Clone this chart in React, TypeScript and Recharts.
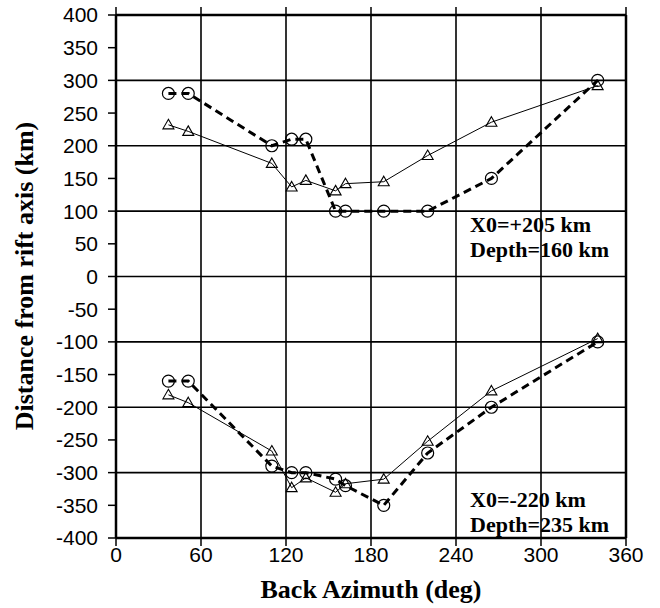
import { LineChart, Line, XAxis, YAxis, CartesianGrid, Label } from 'recharts'

// back azimuth of each event group (deg)
const azimuths = [37, 51, 110, 124, 134, 155, 162, 189, 220, 265, 340]
// X0=+205 km, depth 160 km
const upperObserved = [280, 280, 200, 210, 210, 100, 100, 100, 100, 150, 300]
const upperModel = [232, 222, 173, 137, 147, 131, 142, 145, 185, 236, 292]
// X0=-220 km, depth 235 km
const lowerObserved = [-160, -160, -290, -300, -300, -310, -320, -350, -270, -200, -100]
const lowerModel = [-181, -193, -267, -323, -308, -330, -317, -310, -252, -175, -95]

const xTicks = [0, 60, 120, 180, 240, 300, 360]
const yTicks = [-400, -350, -300, -250, -200, -150, -100, -50, 0, 50, 100, 150, 200, 250, 300, 350, 400]
const gridX = [60, 120, 180, 240, 300]
const gridY = [-300, -200, -100, 0, 100, 200, 300]

const data = azimuths.map((az, i) => ({
  az,
  upperObserved: upperObserved[i],
  upperModel: upperModel[i],
  lowerObserved: lowerObserved[i],
  lowerModel: lowerModel[i],
}))

const SANS = '"Liberation Sans", Arial, sans-serif'
const SERIF = '"Liberation Serif", "Times New Roman", serif'
const tickStyle = { fontFamily: SANS, fontSize: 21, fill: '#000' }
const frame = { stroke: '#000', strokeWidth: 2.5 }
const tickLn = { stroke: '#000', strokeWidth: 1.5 }

function CircleDot(props: any) {
  const { cx, cy } = props
  if (cx == null || cy == null) return <g />
  return <circle cx={cx} cy={cy} r={6} fill="none" stroke="#000" strokeWidth={1.2} />
}

function TriangleDot(props: any) {
  const { cx, cy } = props
  if (cx == null || cy == null) return <g />
  return (
    <path
      d={`M${cx},${cy - 5.5} L${cx + 5.5},${cy + 4} L${cx - 5.5},${cy + 4} Z`}
      fill="none"
      stroke="#000"
      strokeWidth={1.1}
    />
  )
}

const noTick = () => <g />

export default function App() {
  const annot = { fontFamily: SERIF, fontWeight: 700, fontSize: 22, fill: '#000' }
  return (
    <div style={{ position: 'relative', width: 660, height: 608, background: '#fff' }}>
      <style>{'body{margin:0}'}</style>
      <svg width={660} height={608} style={{ position: 'absolute', left: 0, top: 0 }}>
        <text x={470} y={232} {...annot}>X0=+205 km</text>
        <text x={470} y={257} {...annot}>Depth=160 km</text>
        <text x={470} y={507} {...annot}>X0=-220 km</text>
        <text x={470} y={532} {...annot}>Depth=235 km</text>
      </svg>
      <div style={{ position: 'absolute', left: 0, top: 0 }}>
        <LineChart width={660} height={608} data={data} margin={{ top: 0, right: 0, bottom: 0, left: 0 }}>
          <CartesianGrid
            stroke="#000"
            strokeWidth={1.6}
            horizontalValues={gridY}
            verticalValues={gridX}
          />
          <XAxis
            dataKey="az"
            type="number"
            domain={[0, 360]}
            ticks={xTicks}
            height={70}
            axisLine={frame}
            tickLine={tickLn}
            tickSize={8}
            tickMargin={1}
            tick={tickStyle}
            interval={0}
          >
            <Label
              content={() => (
                <text x={371} y={598} textAnchor="middle" fontFamily={SERIF} fontWeight={700} fontSize={26} fill="#000">
                  Back Azimuth (deg)
                </text>
              )}
            />
          </XAxis>
          <XAxis
            xAxisId="top"
            orientation="top"
            dataKey="az"
            type="number"
            domain={[0, 360]}
            ticks={xTicks}
            height={15}
            axisLine={frame}
            tickLine={tickLn}
            tickSize={8}
            tick={noTick}
            interval={0}
          />
          <YAxis
            type="number"
            domain={[-400, 400]}
            ticks={yTicks}
            width={116}
            axisLine={frame}
            tickLine={tickLn}
            tickSize={8}
            tickMargin={10}
            tick={tickStyle}
            interval={0}
          >
            <Label
              content={() => (
                <text
                  transform="translate(33,276) rotate(-90)"
                  textAnchor="middle"
                  fontFamily={SERIF}
                  fontWeight={700}
                  fontSize={26}
                  fill="#000"
                >
                  Distance from rift axis (km)
                </text>
              )}
            />
          </YAxis>
          <YAxis
            yAxisId="right"
            orientation="right"
            type="number"
            domain={[-400, 400]}
            ticks={yTicks}
            width={34}
            axisLine={frame}
            tickLine={tickLn}
            tickSize={8}
            tick={noTick}
            interval={0}
          />
          <Line type="linear" dataKey="upperModel" stroke="#000" strokeWidth={1} dot={TriangleDot} isAnimationActive={false} />
          <Line type="linear" dataKey="lowerModel" stroke="#000" strokeWidth={1} dot={TriangleDot} isAnimationActive={false} />
          <Line type="linear" dataKey="upperObserved" stroke="#000" strokeWidth={3} strokeDasharray="8 5" dot={CircleDot} isAnimationActive={false} />
          <Line type="linear" dataKey="lowerObserved" stroke="#000" strokeWidth={3} strokeDasharray="8 5" dot={CircleDot} isAnimationActive={false} />
        </LineChart>
      </div>
    </div>
  )
}
